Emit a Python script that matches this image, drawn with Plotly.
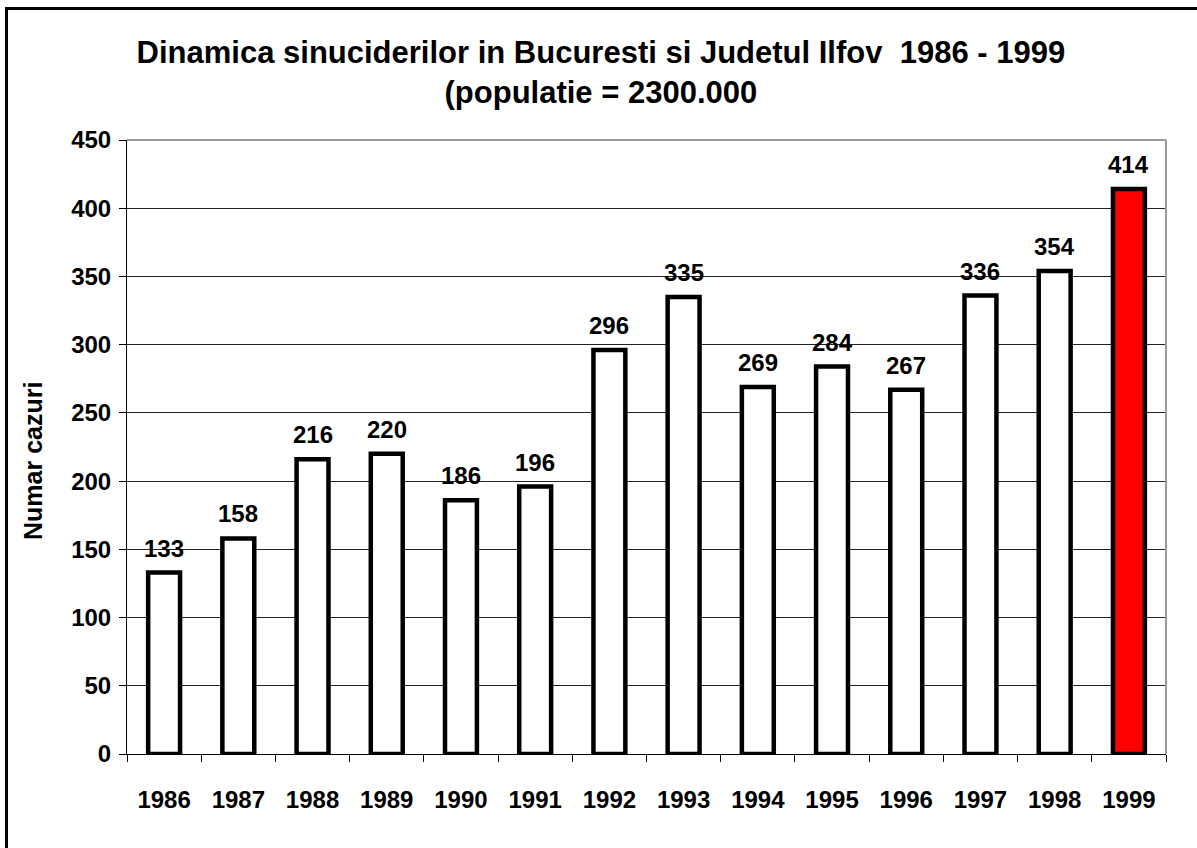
import plotly.graph_objects as go

years = ["1986", "1987", "1988", "1989", "1990", "1991", "1992",
         "1993", "1994", "1995", "1996", "1997", "1998", "1999"]
cases = [133, 158, 216, 220, 186, 196, 296, 335, 269, 284, 267, 336, 354, 414]
colors = ["white"] * 13 + ["#FF0000"]
y_ticks = [0, 50, 100, 150, 200, 250, 300, 350, 400, 450]

FONT = "Arial, 'Liberation Sans', sans-serif"

L, R, T, B = 127, 31, 140, 94
W, H = 1197, 848
pw, ph = W - L - R, H - T - B

fig = go.Figure(go.Bar(
    x=years, y=cases,
    marker=dict(color=colors, line=dict(color="black", width=4.5)),
    cliponaxis=False,
))

annotations = [
    dict(x=i, y=v, xref="x", yref="y", text=str(v), showarrow=False,
         xanchor="center", yanchor="bottom", yshift=9,
         font=dict(family=FONT, size=24, color="black", weight="bold"))
    for i, v in enumerate(cases)
]
annotations.append(dict(
    x=(33 - L) / pw, y=(H - B - 461) / ph, xref="paper", yref="paper",
    text="Numar cazuri", textangle=-90, showarrow=False,
    xanchor="center", yanchor="middle",
    font=dict(family=FONT, size=25, color="black", weight="bold"),
))

fig.update_layout(
    width=W, height=H,
    margin=dict(l=L, r=R, t=T, b=B, autoexpand=False),
    paper_bgcolor="white", plot_bgcolor="white",
    bargap=0.57,
    showlegend=False,
    annotations=annotations,
    title=dict(
        text="Dinamica sinuciderilor in Bucuresti si Judetul Ilfov  1986 - 1999<br>(populatie = 2300.000",
        x=0.502, xref="container", xanchor="center",
        y=1 - 63 / H, yref="container", yanchor="top",
        font=dict(family=FONT, size=31, color="black", weight="bold"),
    ),
    font=dict(family=FONT, color="black"),
    xaxis=dict(
        type="category", categoryorder="array", categoryarray=years,
        range=[-0.5, len(years) - 0.5],
        showline=True, linecolor="black", linewidth=1,
        ticks="outside", tickson="boundaries", ticklen=7, tickcolor="black",
        tickfont=dict(family=FONT, size=24, color="black", weight="bold"),
        ticklabelstandoff=24,
        showgrid=False,
    ),
    yaxis=dict(
        range=[0, 450], tickvals=y_ticks,
        showline=True, linecolor="black", linewidth=1,
        ticks="outside", ticklen=7, tickcolor="black",
        tickfont=dict(family=FONT, size=24, color="black", weight="bold"),
        ticklabelstandoff=3,
        showgrid=True, gridcolor="#222222", gridwidth=1,
        zeroline=False,
    ),
    shapes=[
        dict(type="line", xref="paper", yref="paper", x0=0, x1=1, y0=1, y1=1,
             line=dict(color="#999999", width=2), layer="above"),
        dict(type="line", xref="paper", yref="paper", x0=1, x1=1, y0=0, y1=1,
             line=dict(color="#999999", width=2), layer="above"),
        dict(type="rect", xref="paper", yref="paper",
             x0=(6.5 - L) / pw, x1=1.2, y0=-0.3, y1=(H - B - 8.5) / ph,
             line=dict(color="black", width=3), layer="above"),
    ],
)

fig.write_html("out.html", config={"displayModeBar": False},
               post_script="document.body.style.margin='0';document.body.style.overflow='hidden';")
